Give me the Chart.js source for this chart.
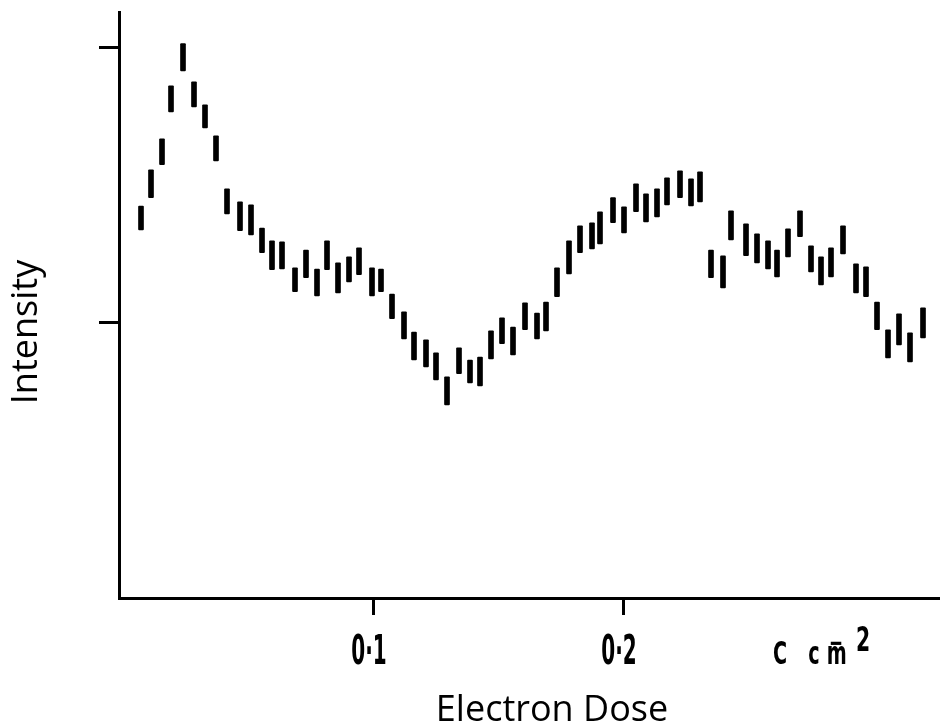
<!DOCTYPE html>
<html>
<head>
<meta charset="utf-8">
<title>Intensity vs Electron Dose</title>
<script src="https://cdn.jsdelivr.net/npm/chart.js@4.4.1/dist/chart.umd.min.js"></script>
<style>
  html, body { margin: 0; padding: 0; background: #fff; }
  canvas { display: block; }
</style>
</head>
<body>
<canvas id="chart" width="940" height="726"></canvas>
<script>
// electron dose (C cm^-2) of each measurement
const doses = [
  0.0072, 0.0112, 0.0156, 0.0192, 0.0240, 0.0284, 0.0328, 0.0372, 0.0416, 0.0468,
  0.0512, 0.0556, 0.0596, 0.0636, 0.0688, 0.0732, 0.0776, 0.0816, 0.0860, 0.0904,
  0.0944, 0.0996, 0.1032, 0.1076, 0.1124, 0.1164, 0.1212, 0.1252, 0.1296, 0.1344,
  0.1388, 0.1428, 0.1472, 0.1516, 0.1560, 0.1608, 0.1656, 0.1692, 0.1736, 0.1784,
  0.1828, 0.1876, 0.1908, 0.1960, 0.2004, 0.2052, 0.2092, 0.2136, 0.2176, 0.2228,
  0.2272, 0.2308, 0.2352, 0.2400, 0.2432, 0.2492, 0.2536, 0.2580, 0.2616, 0.2660,
  0.2708, 0.2752, 0.2792, 0.2832, 0.2880, 0.2932, 0.2972, 0.3016, 0.3060, 0.3104,
  0.3148, 0.3200
];
// lower and upper end of each intensity bar
const lows = [
  1.338, 1.455, 1.575, 1.767, 1.916, 1.785, 1.709, 1.589, 1.396, 1.335,
  1.320, 1.255, 1.193, 1.196, 1.113, 1.164, 1.098, 1.193, 1.109, 1.149,
  1.175, 1.098, 1.113, 1.015, 0.942, 0.865, 0.840, 0.793, 0.702, 0.815,
  0.782, 0.771, 0.869, 0.924, 0.884, 0.975, 0.942, 0.971, 1.095, 1.178,
  1.255, 1.269, 1.287, 1.364, 1.327, 1.404, 1.367, 1.385, 1.429, 1.455,
  1.425, 1.440, 1.164, 1.127, 1.302, 1.244, 1.218, 1.196, 1.167, 1.240,
  1.313, 1.185, 1.138, 1.167, 1.251, 1.109, 1.095, 0.975, 0.873, 0.920,
  0.858, 0.945
];
const highs = [
  1.425, 1.556, 1.669, 1.862, 2.015, 1.876, 1.793, 1.680, 1.487, 1.440,
  1.429, 1.345, 1.298, 1.295, 1.200, 1.265, 1.196, 1.298, 1.218, 1.240,
  1.273, 1.200, 1.196, 1.105, 1.040, 0.967, 0.938, 0.891, 0.804, 0.909,
  0.865, 0.876, 0.971, 1.018, 0.985, 1.073, 1.036, 1.076, 1.200, 1.298,
  1.353, 1.364, 1.404, 1.455, 1.422, 1.505, 1.469, 1.487, 1.527, 1.553,
  1.524, 1.549, 1.265, 1.244, 1.407, 1.360, 1.324, 1.298, 1.265, 1.342,
  1.407, 1.280, 1.240, 1.273, 1.353, 1.215, 1.204, 1.076, 0.975, 1.033,
  0.964, 1.055
];

const doseTicks = [0.1, 0.2];
const doseTickLabels = ["0·1", "0·2"];
const intensityTicks = [1, 2];
const unitLabel = "C cm";
const unitPower = "2";
const xTitle = "Electron Dose";
const yTitle = "Intensity";

const bars = doses.map((d, i) => ({ x: d, y: [lows[i], highs[i]] }));

// old-style lettering: narrow bold digits, the unit, and the axis titles
const axisText = {
  id: "axisText",
  afterDraw(chart) {
    const c = chart.ctx;
    const xs = chart.scales.x;
    c.save();
    c.fillStyle = "#000";
    c.textBaseline = "alphabetic";

    c.font = "bold 40px 'DejaVu Sans'";
    c.textAlign = "center";
    doseTicks.forEach((v, i) => {
      c.save();
      c.translate(xs.getPixelForValue(v) - 4, 664);
      c.scale(0.5, 1);
      c.fillText(doseTickLabels[i], 0, 0);
      c.restore();
    });

    // unit at the end of the axis, minus sign sitting over the m as in the print
    c.save();
    c.translate(773, 664);
    c.scale(0.6, 1);
    c.textAlign = "left";
    c.font = "bold 32px 'DejaVu Sans'";
    c.letterSpacing = "12px";
    c.fillText(unitLabel, 0, 0);
    c.restore();
    c.save();
    c.translate(836, 652);
    c.scale(0.6, 1);
    c.textAlign = "center";
    c.font = "bold 28px 'DejaVu Sans'";
    c.fillText("−", 0, 0);
    c.restore();
    c.save();
    c.translate(863, 651);
    c.scale(0.6, 1);
    c.textAlign = "center";
    c.font = "bold 34px 'DejaVu Sans'";
    c.fillText(unitPower, 0, 0);
    c.restore();

    c.font = "36px 'Open Sans'";
    c.textAlign = "center";
    c.fillText(xTitle, 552, 721);
    c.save();
    c.translate(37, 332);
    c.rotate(-Math.PI / 2);
    c.fillText(yTitle, 0, 0);
    c.restore();
    c.restore();
  }
};

const chart = new Chart(document.getElementById("chart"), {
  type: "bar",
  data: {
    datasets: [{
      data: bars,
      backgroundColor: "#000",
      borderWidth: 0,
      borderRadius: 1,
      borderSkipped: false,
      barThickness: 5
    }]
  },
  options: {
    responsive: false,
    animation: false,
    layout: { padding: { top: 12, right: 0, bottom: 0, left: 0 } },
    plugins: { legend: { display: false }, tooltip: { enabled: false } },
    scales: {
      x: {
        type: "linear",
        offset: false,
        min: -0.0016,
        max: 0.3268,
        afterBuildTicks: axis => { axis.ticks = doseTicks.map(v => ({ value: v })); },
        afterFit: axis => { axis.height = 128; },
        ticks: { display: false },
        grid: { offset: false, drawOnChartArea: false, drawTicks: true, tickLength: 17, lineWidth: 3, color: "#000" },
        border: { color: "#000", width: 3 }
      },
      y: {
        min: 0,
        max: 2.13,
        afterBuildTicks: axis => { axis.ticks = intensityTicks.map(v => ({ value: v })); },
        afterFit: axis => { axis.width = 119; },
        ticks: { display: false },
        grid: { drawOnChartArea: false, drawTicks: true, tickLength: 20, lineWidth: 3, color: "#000" },
        border: { color: "#000", width: 3 }
      }
    }
  },
  plugins: [axisText]
});
</script>
</body>
</html>
